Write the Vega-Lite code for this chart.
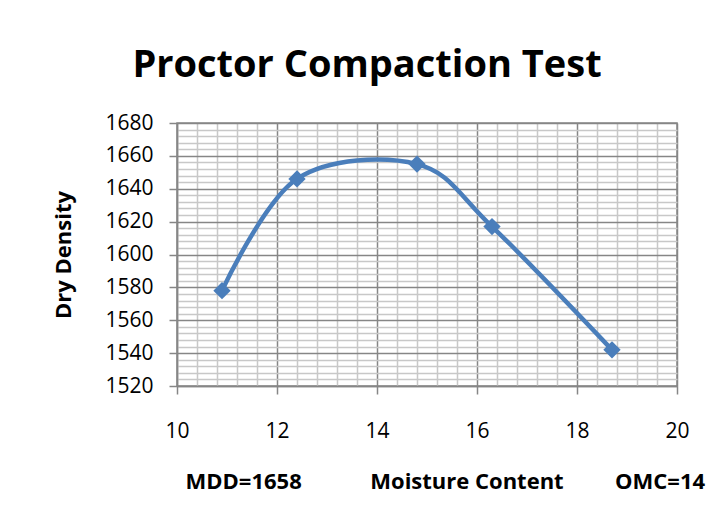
{
  "$schema": "https://vega.github.io/schema/vega-lite/v6.json",
  "width": 500,
  "height": 263,
  "autosize": {"type": "none"},
  "padding": {"left": 177, "top": 123, "right": 32, "bottom": 136},
  "background": "white",
  "title": {
    "text": "Proctor Compaction Test",
    "font": "Open Sans",
    "fontSize": 38,
    "fontWeight": "bold",
    "color": "black",
    "anchor": "middle",
    "frame": "group",
    "dx": -60,
    "dy": 40,
    "offset": 37,
    "baseline": "alphabetic"
  },
  "config": {
    "view": {"stroke": "#868686", "strokeWidth": 1.5},
    "font": "Open Sans"
  },
  "data": {
    "values": [
      {"moisture": 10.9, "density": 1578},
      {"moisture": 12.4, "density": 1646},
      {"moisture": 14.8, "density": 1655},
      {"moisture": 16.3, "density": 1617},
      {"moisture": 18.7, "density": 1542}
    ]
  },
  "encoding": {
    "x": {
      "field": "moisture",
      "type": "quantitative",
      "scale": {"domain": [10, 20], "nice": false, "zero": false},
      "axis": {
        "values": [10, 10.4, 10.8, 11.2, 11.6, 12, 12.4, 12.8, 13.2, 13.6, 14, 14.4, 14.8, 15.2, 15.6, 16, 16.4, 16.8, 17.2, 17.6, 18, 18.4, 18.8, 19.2, 19.6, 20],
        "grid": true,
        "gridColor": {"condition": {"test": "abs(datum.value/2 - round(datum.value/2)) < 0.001", "value": "#868686"}, "value": "#c8c8c8"},
        "gridWidth": 1.5,
        "tickOpacity": {"condition": {"test": "abs(datum.value/2 - round(datum.value/2)) < 0.001", "value": 1}, "value": 0},
        "tickColor": "#868686",
        "tickSize": 8,
        "tickWidth": 1.5,
        "domainColor": "#868686",
        "domainWidth": 1.5,
        "labelExpr": "abs(datum.value/2 - round(datum.value/2)) < 0.001 ? format(datum.value, 'd') : ''",
        "labelOverlap": false,
        "labelFlush": false,
        "labelFont": "Open Sans",
        "labelFontSize": 21,
        "labelColor": "black",
        "labelBaseline": "alphabetic",
        "labelPadding": 43,
        "title": "MDD=1658\u00a0\u00a0\u00a0\u00a0\u00a0\u00a0\u00a0\u00a0\u00a0\u00a0\u00a0\u00a0Moisture Content\u00a0\u00a0\u00a0\u00a0\u00a0\u00a0\u00a0\u00a0\u00a0OMC=14",
        "titleFont": "Open Sans",
        "titleFontSize": 22,
        "titleFontWeight": "bold",
        "titleColor": "black",
        "titleAnchor": "start",
        "titleAlign": "left",
        "titleBaseline": "alphabetic",
        "titleX": 8,
        "titleY": 102
      }
    },
    "y": {
      "field": "density",
      "type": "quantitative",
      "scale": {"domain": [1520, 1680], "nice": false, "zero": false},
      "axis": {
        "values": [1520, 1524, 1528, 1532, 1536, 1540, 1544, 1548, 1552, 1556, 1560, 1564, 1568, 1572, 1576, 1580, 1584, 1588, 1592, 1596, 1600, 1604, 1608, 1612, 1616, 1620, 1624, 1628, 1632, 1636, 1640, 1644, 1648, 1652, 1656, 1660, 1664, 1668, 1672, 1676, 1680],
        "grid": true,
        "gridColor": {"condition": {"test": "datum.value % 20 === 0", "value": "#868686"}, "value": "#c8c8c8"},
        "gridWidth": 1.5,
        "tickOpacity": {"condition": {"test": "datum.value % 20 === 0", "value": 1}, "value": 0},
        "tickColor": "#868686",
        "tickSize": 8,
        "tickWidth": 1.5,
        "domainColor": "#868686",
        "domainWidth": 1.5,
        "labelExpr": "datum.value % 20 === 0 ? datum.label : ''",
        "labelOverlap": false,
        "labelFlush": false,
        "labelFont": "Open Sans",
        "labelFontSize": 21,
        "labelColor": "black",
        "labelPadding": 16,
        "format": "d",
        "title": "Dry Density",
        "titleFont": "Open Sans",
        "titleFontSize": 22,
        "titleFontWeight": "bold",
        "titleColor": "black",
        "titleAngle": -90,
        "titleAlign": "center",
        "titleBaseline": "alphabetic",
        "titleX": -107,
        "titleY": 131.5
      }
    }
  },
  "layer": [
    {"mark": {"type": "line", "interpolate": "cardinal", "color": "#4a7ebb", "strokeWidth": 4.5}},
    {"mark": {"type": "point", "shape": "diamond", "filled": true, "size": 300, "color": "#4a7ebb", "opacity": 1}}
  ]
}
